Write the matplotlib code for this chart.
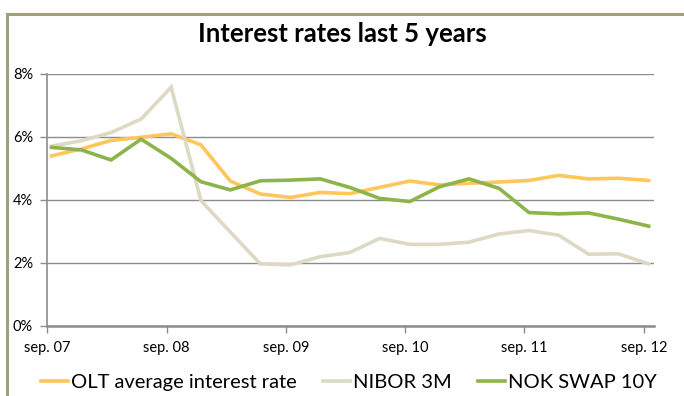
import matplotlib
matplotlib.use("Agg")
import matplotlib.pyplot as plt
from matplotlib.lines import Line2D
import pandas as pd

plt.rcParams['font.family'] = ['Lato', 'DejaVu Sans']

# ── Data (quarterly, % per year) ───────────────────────
quarters = ['2007-09', '2007-12', '2008-03', '2008-06', '2008-09', '2008-12',
            '2009-03', '2009-06', '2009-09', '2009-12', '2010-03', '2010-06',
            '2010-09', '2010-12', '2011-03', '2011-06', '2011-09', '2011-12',
            '2012-03', '2012-06', '2012-09']
olt_avg = [5.40, 5.62, 5.89, 5.99, 6.10, 5.75, 4.60, 4.19, 4.08, 4.24, 4.20,
           4.40, 4.60, 4.48, 4.53, 4.57, 4.62, 4.78, 4.67, 4.69, 4.62]
nibor_3m = [5.71, 5.88, 6.14, 6.57, 7.58, 3.98, 2.98, 1.97, 1.94, 2.20, 2.33,
            2.78, 2.59, 2.59, 2.66, 2.92, 3.03, 2.88, 2.28, 2.29, 1.97]
nok_swap = [5.67, 5.59, 5.27, 5.93, 5.32, 4.58, 4.32, 4.61, 4.63, 4.67, 4.40,
            4.05, 3.95, 4.42, 4.67, 4.37, 3.60, 3.56, 3.59, 3.39, 3.17]
series_names = ['OLT average interest rate', 'NIBOR 3M', 'NOK SWAP 10Y']
series_colors = ['#FFC65A', '#DDD9C4', '#8DB44B']
year_labels = ['sep. 07', 'sep. 08', 'sep. 09', 'sep. 10', 'sep. 11', 'sep. 12']

# points sit mid-month on a monthly date axis (Excel style)
dates = pd.to_datetime(quarters) + pd.Timedelta(days=14)

fig = plt.figure(figsize=(6.84, 3.96), dpi=100)
ax = fig.add_axes([0.0687, 0.1768, 0.8873, 0.6364])

for vals, name, col in zip([olt_avg, nibor_3m, nok_swap], series_names, series_colors):
    ax.plot(dates, vals, color=col, linewidth=2.6, label=name,
            solid_joinstyle='miter')

# ── Axes styling ───────────────────────────────────────
ax.set_ylim(0, 8)
ax.set_yticks([0, 2, 4, 6, 8])
ax.set_yticklabels(['0%', '2%', '4%', '6%', '8%'])
ax.set_xlim(pd.Timestamp('2007-09-01'), pd.Timestamp('2012-10-01'))
ax.set_xticks(pd.to_datetime(['2007-09-01', '2008-09-01', '2009-09-01',
                              '2010-09-01', '2011-09-01', '2012-09-01']))
ax.set_xticklabels(year_labels)

ax.yaxis.grid(True, color='#8C8C8C', linewidth=1)
ax.set_axisbelow(True)
for s in ['top', 'right']:
    ax.spines[s].set_visible(False)
ax.spines['left'].set_color('#8C8C8C')
ax.spines['left'].set_linewidth(1.2)
ax.spines['bottom'].set_color('#8C8C8C')
ax.spines['bottom'].set_linewidth(1.8)
ax.tick_params(axis='both', colors='#8C8C8C', labelcolor='black',
               labelsize=10.5, length=5, width=1)
ax.tick_params(axis='y', pad=5)
ax.tick_params(axis='x', pad=6)

fig.text(0.5, 0.915, 'Interest rates last 5 years', ha='center', va='center',
         fontsize=18.5, fontweight='bold')

# chart frame (top + left edge)
fig.add_artist(Line2D([0.0105, 1.0], [0.965, 0.965], color='#A0A07A',
                      linewidth=2.2, transform=fig.transFigure))
fig.add_artist(Line2D([0.0105, 0.0105], [0.0, 0.965], color='#A0A07A',
                      linewidth=2.2, transform=fig.transFigure))

fig.legend(loc='center', bbox_to_anchor=(0.51, 0.035), ncol=3, frameon=False,
           fontsize=14.5, handlelength=1.35, handletextpad=0.15,
           columnspacing=1.3)

plt.savefig('out.png', dpi=100)
